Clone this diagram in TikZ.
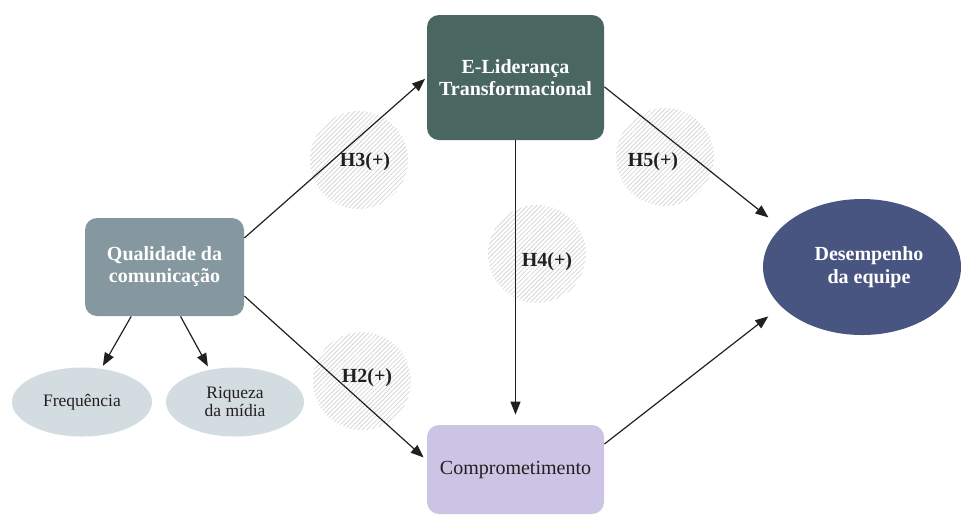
\documentclass[tikz,border=0pt]{standalone}
\usepackage{fontspec}
\setmainfont{Liberation Serif}
\usetikzlibrary{arrows.meta,patterns.meta,shapes.geometric}

\definecolor{lidcolor}{RGB}{74,102,97}
\definecolor{qualcolor}{RGB}{133,152,160}
\definecolor{compcolor}{RGB}{204,196,228}
\definecolor{descolor}{RGB}{72,85,128}
\definecolor{dimcolor}{RGB}{211,220,224}
\definecolor{inkcolor}{RGB}{35,31,32}

\begin{document}
\begin{tikzpicture}[x=0.5pt, y=-0.5pt,
        >={Triangle[length=6.5pt,width=5pt]},
        link/.style={draw=inkcolor, line width=0.6pt},
        box/.style={rectangle, rounded corners=6pt, draw=none, align=center, inner sep=0pt},
        darkbox/.style={box, text=white, font=\fontsize{10}{11}\selectfont\bfseries},
        dimball/.style={ellipse, draw=none, fill=dimcolor, inner sep=0pt, align=center,
            minimum height=34.5pt, text=inkcolor, font=\fontsize{8.75}{9}\selectfont},
        hypothesis/.style={circle, draw=none, minimum size=49pt, inner sep=0pt,
            pattern={Lines[angle=45,distance=1.6pt,line width=0.4pt]}, pattern color=black!16},
        hyplabel/.style={inner sep=0pt, text=inkcolor, font=\fontsize{10}{11}\selectfont\bfseries}]
        \useasboundingbox (0,0) rectangle (961,516);

        \node[hypothesis] (H3-circle) at(359,160){};
        \node[hypothesis] (H5-circle) at(665,157){};
        \node[hypothesis] (H4-circle) at(537,254){};
        \node[hypothesis] (H2-circle) at(362,381){};

        \node[darkbox, fill=lidcolor, minimum width=88.5pt, minimum height=62.5pt] (lideranca) at(515.5,77.5){E-Liderança\\Transformacional};
        \node[darkbox, fill=qualcolor, minimum width=79.5pt, minimum height=49pt] (qualidade) at(164.5,267){Qualidade da\\comunicação};
        \node[box, fill=compcolor, minimum width=88.5pt, minimum height=44.5pt, text=inkcolor, font=\fontsize{10}{11}\selectfont] (comprometimento) at(515.5,469.5){Comprometimento};
        \node[ellipse, draw=none, fill=descolor, minimum width=99pt, minimum height=68pt, inner sep=0pt, align=center, text=white, font=\fontsize{10}{11.3}\selectfont\bfseries] (desempenho) at(862,267){\hspace*{7pt}Desempenho\\\hspace*{7pt}da equipe};

        \node[dimball, minimum width=70pt] (frequencia) at(82,402){Frequência};
        \node[dimball, minimum width=69pt] (riqueza) at(235,402){Riqueza\\da mídia};

        \node[hyplabel] (H3) at(365,162){H3(+)};
        \node[hyplabel] (H5) at(653,162){H5(+)};
        \node[hyplabel] (H4) at(547,262){H4(+)};
        \node[hyplabel] (H2) at(367,378){H2(+)};

        \draw [link, ->, shorten >=1pt] (qualidade.20) -- (lideranca.west);
        \draw [link, ->, shorten >=2pt] (qualidade.-20) -- (comprometimento.174);

        \draw [link, ->, shorten >=5pt] (lideranca.south) -- (comprometimento.north);

        \draw [link, ->, shorten >=8pt] (lideranca.-6) -- (desempenho.154);
        \draw [link, ->, shorten >=8pt] (comprometimento.16) -- (desempenho.206);

        \draw [link, ->, shorten >=1.5pt] (qualidade.236) -- (frequencia.60);
        \draw [link, ->, shorten >=1.8pt] (qualidade.-72) -- (riqueza.128);

      \end{tikzpicture}
\end{document}
